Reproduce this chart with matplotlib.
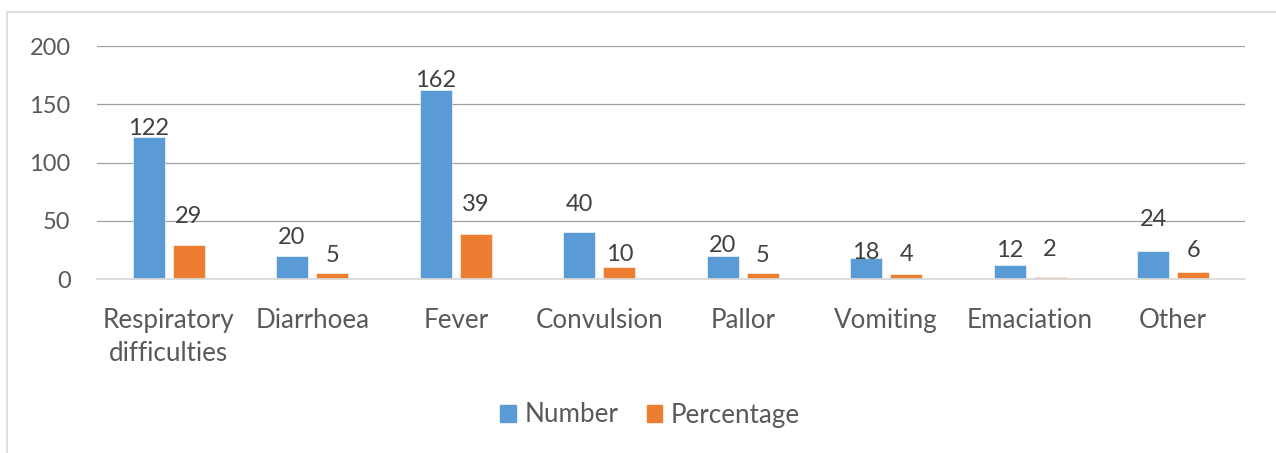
import numpy as np
import matplotlib.pyplot as plt
from matplotlib.patches import Rectangle, Patch

plt.rcParams['font.family'] = ['Lato', 'DejaVu Sans']

# chart data
categories = ['Respiratory\ndifficulties', 'Diarrhoea', 'Fever', 'Convulsion',
              'Pallor', 'Vomiting', 'Emaciation', 'Other']
number = [122, 20, 162, 40, 20, 18, 12, 24]
percentage = [29, 5, 39, 10, 5, 4, 2, 6]

# label lift above bar top, in pixels (labels were hand-placed in the original)
number_lift = [0, 10, 2, 20, 2, -2, 7, 24]
percentage_lift = [21, 10, 21, 5, 10, 12, 19, 14]

blue = '#5B9BD5'
orange = '#ED7D31'
label_col = '#404040'
axis_col = '#595959'

W, H = 1276, 453
fig = plt.figure(figsize=(W / 100, H / 100), dpi=100)

# chart frame
fig.patches.append(Rectangle((7 / W, -0.1), 1.2, (H - 12) / H + 0.1,
                             transform=fig.transFigure, fill=False,
                             edgecolor='#d9d9d9', linewidth=1.2))

ax = fig.add_axes([97 / W, 1 - 279 / H, (1245 - 97) / W, (279 - 46) / H])

x = np.arange(len(categories))
bw = 0.223
off = 0.141
b1 = ax.bar(x - off, number, bw, color=blue, edgecolor='white', linewidth=0.4, zorder=3)
b2 = ax.bar(x + off, percentage, bw, color=orange, edgecolor='white', linewidth=0.4, zorder=3)

for bars, vals, lifts in [(b1, number, number_lift), (b2, percentage, percentage_lift)]:
    for rect, v, d in zip(bars, vals, lifts):
        ax.annotate(str(v), (rect.get_x() + rect.get_width() / 2, v),
                    xytext=(0, d * 0.72 + 1), textcoords='offset points',
                    ha='center', va='baseline', fontsize=17, color=label_col, zorder=4)

ax.set_xlim(-0.5, len(categories) - 0.5)
ax.set_ylim(0, 200)
ax.set_yticks([0, 50, 100, 150, 200])
ax.yaxis.grid(True, color='#a0a0a0', linewidth=0.9, zorder=0)
ax.set_axisbelow(True)
for s in ['top', 'right', 'left']:
    ax.spines[s].set_visible(False)
ax.spines['bottom'].set_color('#d9d9d9')
ax.spines['bottom'].set_linewidth(1.3)
ax.spines['bottom'].set_zorder(5)

ax.set_xticks(x)
ax.set_xticklabels(categories, fontsize=18.7, color=axis_col, linespacing=1.4)
ax.tick_params(axis='x', length=0, pad=21)
ax.tick_params(axis='y', length=0, pad=19, labelsize=17, labelcolor=axis_col)

handles = [Patch(color=blue, label='Number'), Patch(color=orange, label='Percentage')]
leg = fig.legend(handles=handles, loc='center', bbox_to_anchor=(650 / W, 1 - 415 / H),
                 ncol=2, frameon=False, fontsize=18.7, handlelength=0.6, handleheight=0.6,
                 handletextpad=0.33, columnspacing=1.1, borderaxespad=0)
for t in leg.get_texts():
    t.set_color(axis_col)

fig.savefig('out.png', dpi=100)
